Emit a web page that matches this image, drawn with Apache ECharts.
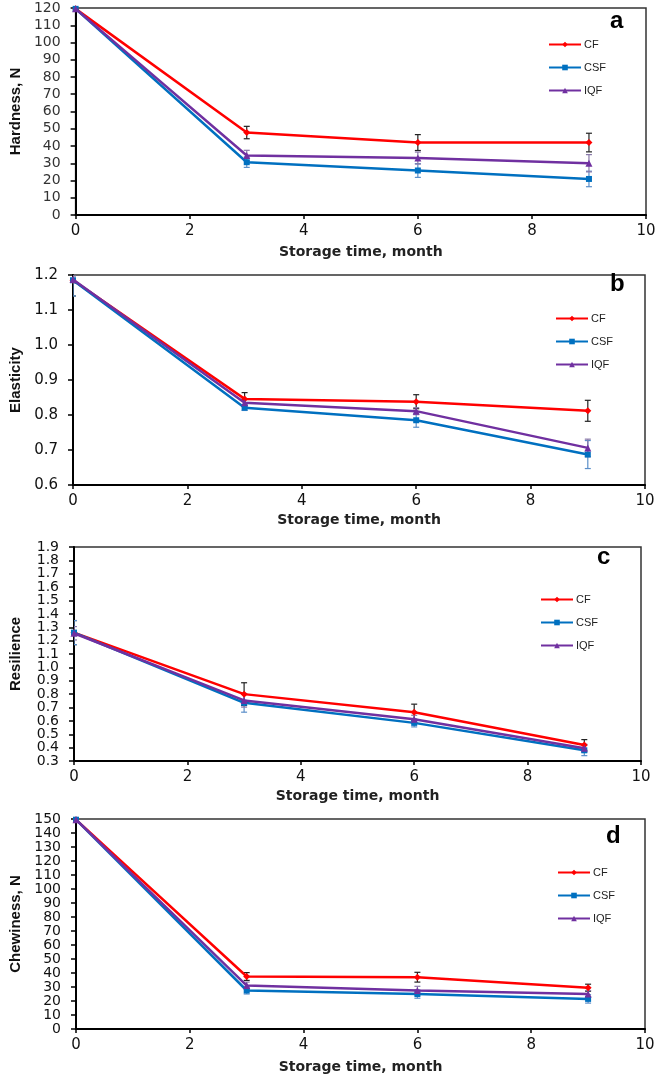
<!DOCTYPE html>
<html>
<head>
<meta charset="utf-8">
<script src="https://cdn.jsdelivr.net/npm/echarts@6/dist/echarts.min.js"></script>
<style>
html,body{margin:0;padding:0;background:#fff;}
#c{width:661px;height:1075px;}
</style>
</head>
<body>
<div id="c"></div>
<script>
// ---- data ----
const months = [0, 3, 6, 9];
const seriesNames = ['CF', 'CSF', 'IQF'];
const panelLetters = ['a', 'b', 'c', 'd'];
const yTitles = ['Hardness, N', 'Elasticity', 'Resilience', 'Chewiness, N'];
const xTitle = 'Storage time, month';

const hardnessCF  = [119.5, 47.8, 42.0, 42.0];
const hardnessCSF = [119.5, 30.6, 25.8, 20.9];
const hardnessIQF = [119.5, 34.5, 33.0, 30.0];
const hardnessErrCF  = [0.5, 3.6, 4.6, 5.4];
const hardnessErrCSF = [0.5, 3.0, 4.0, 4.5];
const hardnessErrIQF = [0.5, 3.0, 3.5, 5.0];

const elasticityCF  = [1.185, 0.846, 0.838, 0.812];
const elasticityCSF = [1.185, 0.821, 0.785, 0.687];
const elasticityIQF = [1.187, 0.835, 0.811, 0.706];
const elasticityErrCF  = [0.045, 0.018, 0.020, 0.030];
const elasticityErrCSF = [0.045, 0.008, 0.020, 0.040];
const elasticityErrIQF = [0.010, 0.010, 0.010, 0.025];

const resilienceCF  = [1.26, 0.800, 0.665, 0.420];
const resilienceCSF = [1.26, 0.735, 0.585, 0.380];
const resilienceIQF = [1.255, 0.753, 0.612, 0.395];
const resilienceErrCF  = [0.09, 0.085, 0.06, 0.04];
const resilienceErrCSF = [0.09, 0.070, 0.03, 0.04];
const resilienceErrIQF = [0.05, 0.050, 0.03, 0.03];

const chewinessCF  = [149.5, 37.5, 37.0, 29.5];
const chewinessCSF = [149.5, 27.5, 25.0, 21.5];
const chewinessIQF = [149.5, 31.0, 27.5, 25.0];
const chewinessErrCF  = [1.0, 2.8, 3.5, 2.5];
const chewinessErrCSF = [1.0, 2.5, 3.0, 3.0];
const chewinessErrIQF = [1.0, 2.5, 3.0, 2.5];

const yRanges = [[0, 120, 10], [0.6, 1.2, 0.1], [0.3, 1.9, 0.1], [0, 150, 10]];
const yDecimals = [0, 1, 1, 0];
// resilience tick labels, split into two interleaved sets so all are shown
const resilienceTicksA = [0.3, 0.5, 0.7, 0.9, 1.1, 1.3, 1.5, 1.7, 1.9];
const resilienceTicksB = [0.4, 0.6, 0.8, 1.0, 1.2, 1.4, 1.6, 1.8];

// ---- layout / style ----
const panels = [
  {vals: [hardnessCF, hardnessCSF, hardnessIQF], errs: [hardnessErrCF, hardnessErrCSF, hardnessErrIQF]},
  {vals: [elasticityCF, elasticityCSF, elasticityIQF], errs: [elasticityErrCF, elasticityErrCSF, elasticityErrIQF]},
  {vals: [resilienceCF, resilienceCSF, resilienceIQF], errs: [resilienceErrCF, resilienceErrCSF, resilienceErrIQF]},
  {vals: [chewinessCF, chewinessCSF, chewinessIQF], errs: [chewinessErrCF, chewinessErrCSF, chewinessErrIQF]}
];
const grids = [
  {left: 73, top: 8, width: 573, height: 207},
  {left: 70, top: 275, width: 575, height: 210},
  {left: 69, top: 547, width: 572, height: 214},
  {left: 73, top: 819, width: 572, height: 214}
];
const yNameCenters = [14, 12, 10, 12];
const xNameGaps = [30, 28, 28, 31];
const yLabelSizes = [14, 15, 14, 14];
const legendPos = [
  {left: 548, top: 39}, {left: 555, top: 313}, {left: 540, top: 594}, {left: 557, top: 867}
];
const letterPos = [
  {left: 610, top: 9}, {left: 610, top: 272}, {left: 597, top: 545}, {left: 606, top: 824}
];
const lineColors = ['#ff0000', '#0070c0', '#7030a0'];
const errColors = ['#222222', '#5b8fc9', '#8878a8'];
const symbols = ['diamond', 'rect', 'triangle'];
const symbolSizes = [7, 6, 7];

const labelFont = 'DejaVu Sans, Arial';

const yAxes = grids.map((g, i) => {
  const ax = {
    type: 'value', gridIndex: i, min: yRanges[i][0], max: yRanges[i][1], interval: yRanges[i][2],
    name: yTitles[i], nameLocation: 'middle', nameGap: g.left - yNameCenters[i] - 8,
    nameTextStyle: {fontFamily: 'Liberation Sans Narrow, Liberation Sans, Arial', fontWeight: 'bold', fontSize: 15, color: '#111'},
    axisLine: {show: true, lineStyle: {color: '#000', width: 2}},
    axisTick: {show: true, length: 5, lineStyle: {color: '#000', width: 1.5}},
    axisLabel: {fontFamily: labelFont, fontSize: yLabelSizes[i],
      color: i === 0 ? '#333' : '#111', margin: 15,
      showMinLabel: true, showMaxLabel: true, hideOverlap: false,
      formatter: v => Number(v).toFixed(yDecimals[i])},
    splitLine: {show: false}
  };
  if (i === 2) ax.axisLabel.customValues = resilienceTicksA;
  return ax;
});
// second label layer for resilience (same scale, same position)
yAxes.push({
  type: 'value', gridIndex: 2, position: 'left', offset: 0,
  min: yRanges[2][0], max: yRanges[2][1], interval: yRanges[2][2],
  axisLine: {show: false}, axisTick: {show: false}, splitLine: {show: false},
  axisLabel: {fontFamily: labelFont, fontSize: yLabelSizes[2], color: '#111', margin: 15,
    customValues: resilienceTicksB, hideOverlap: false,
    formatter: v => Number(v).toFixed(1)}
});

const option = {
  animation: false,
  backgroundColor: '#fff',
  grid: grids.map(g => Object.assign({show: true, borderColor: '#333', borderWidth: 1.5, backgroundColor: 'transparent'}, g)),
  title: panelLetters.map((t, i) => ({
    text: t, left: letterPos[i].left, top: letterPos[i].top, padding: 0,
    textStyle: {fontFamily: 'Liberation Sans, Arial', fontWeight: 'bold', fontSize: 24, color: '#000'}
  })),
  legend: legendPos.map(p => ({
    data: seriesNames, orient: 'vertical', left: p.left, top: p.top, padding: 0,
    itemWidth: 32, itemHeight: 7, itemGap: 12,
    textStyle: {fontFamily: 'Liberation Sans, Arial', fontSize: 11, color: '#222', padding: [0, 0, 0, -2]}
  })),
  xAxis: grids.map((g, i) => ({
    type: 'value', gridIndex: i, min: 0, max: 10, interval: 2,
    name: xTitle, nameLocation: 'middle', nameGap: xNameGaps[i],
    nameTextStyle: {fontFamily: 'DejaVu Sans, Arial', fontWeight: 'bold', fontSize: 14, color: '#222'},
    axisLine: {show: true, lineStyle: {color: '#000', width: 2}},
    axisTick: {show: true, length: 4, lineStyle: {color: '#000', width: 1.5}},
    axisLabel: {fontFamily: labelFont, fontSize: 15, color: '#111', margin: 9,
      showMinLabel: true, showMaxLabel: true},
    splitLine: {show: false}
  })),
  yAxis: yAxes,
  series: []
};

panels.forEach((p, pi) => {
  // error bars
  seriesNames.forEach((name, si) => {
    option.series.push({
      type: 'custom', name: name + ' err', xAxisIndex: pi, yAxisIndex: pi, z: 1,
      silent: true, clip: true,
      data: months.map((m, k) => [m, p.vals[si][k] - p.errs[si][k], p.vals[si][k] + p.errs[si][k]]),
      renderItem: (params, api) => {
        const x = api.value(0);
        const lo = api.coord([x, api.value(1)]);
        const hi = api.coord([x, api.value(2)]);
        const w = 3;
        const st = {stroke: errColors[si], lineWidth: 1.2};
        return {type: 'group', children: [
          {type: 'line', shape: {x1: lo[0], y1: lo[1], x2: hi[0], y2: hi[1]}, style: st},
          {type: 'line', shape: {x1: lo[0] - w, y1: lo[1], x2: lo[0] + w, y2: lo[1]}, style: st},
          {type: 'line', shape: {x1: hi[0] - w, y1: hi[1], x2: hi[0] + w, y2: hi[1]}, style: st}
        ]};
      }
    });
  });
  // lines
  seriesNames.forEach((name, si) => {
    option.series.push({
      type: 'line', name: name, xAxisIndex: pi, yAxisIndex: pi, z: 3 + si,
      data: months.map((m, k) => [m, p.vals[si][k]]),
      symbol: symbols[si], symbolSize: symbolSizes[si], showSymbol: true,
      lineStyle: {color: lineColors[si], width: 2.5},
      itemStyle: {color: lineColors[si]}
    });
  });
});

const chart = echarts.init(document.getElementById('c'), null, {renderer: 'canvas'});
chart.setOption(option);
</script>
</body>
</html>
